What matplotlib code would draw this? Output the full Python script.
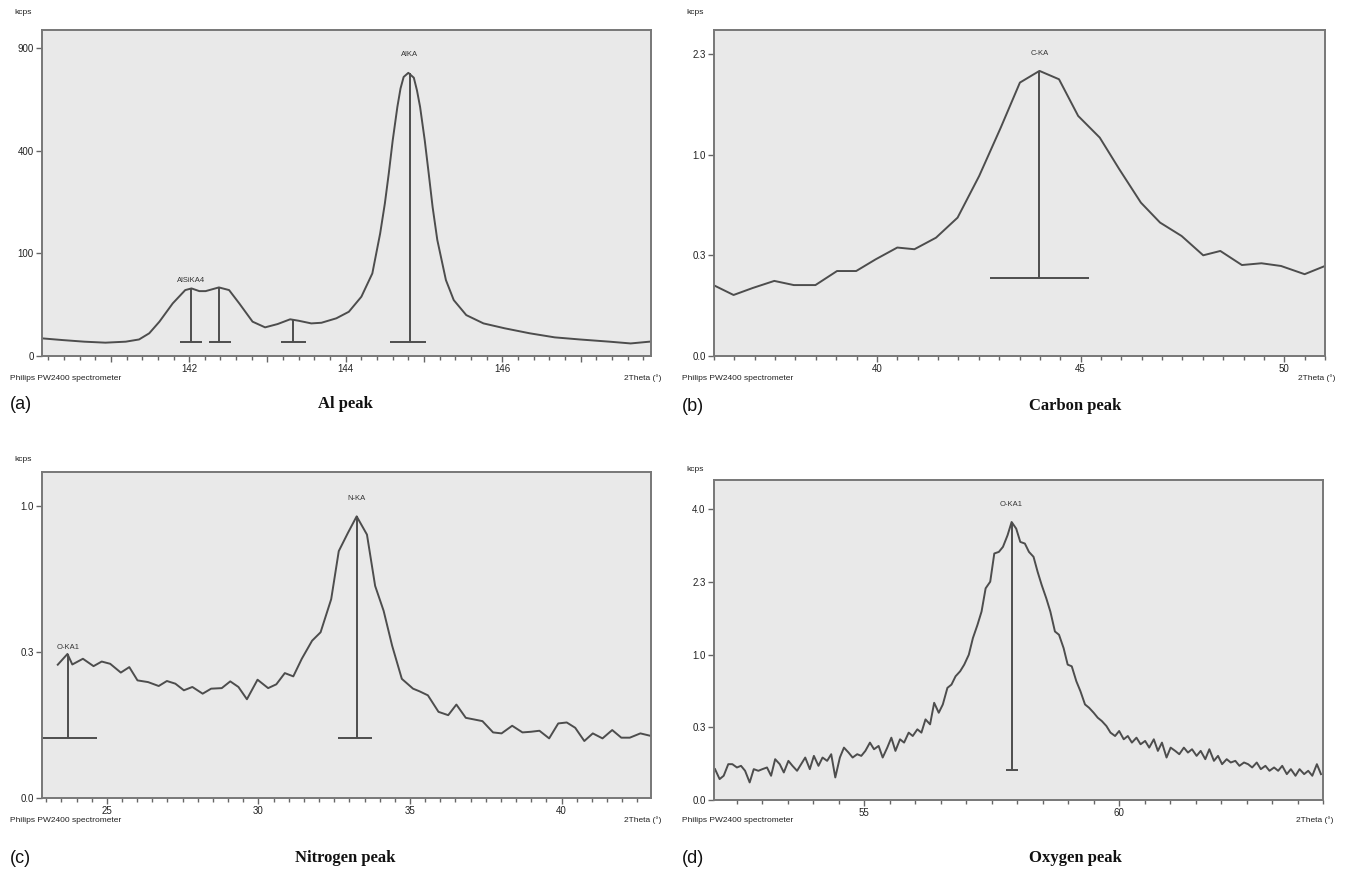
import numpy as np
import matplotlib.pyplot as plt
from matplotlib.ticker import MultipleLocator, FixedLocator

# ---------------- (a) Al peak ----------------
al_x = [140.12, 140.39, 140.66, 140.93, 141.19, 141.36, 141.49, 141.62, 141.79, 141.95,
        142.03, 142.13, 142.21, 142.38, 142.51, 142.64, 142.81, 142.97, 143.13, 143.29,
        143.40, 143.56, 143.69, 143.88, 144.04, 144.20, 144.34, 144.44, 144.50, 144.55,
        144.60, 144.66, 144.70, 144.74, 144.80, 144.87, 144.91, 144.95, 145.01, 145.06,
        145.11, 145.17, 145.28, 145.38, 145.54, 145.76, 146.03, 146.35, 146.67, 146.99,
        147.37, 147.64, 147.88]
al_y = [2.96, 2.4, 1.95, 1.69, 1.95, 2.6, 4.9, 11.2, 26.3, 41.3,
        43.4, 40.0, 40.0, 44.7, 41.3, 26.3, 11.2, 7.8, 9.7, 12.8,
        11.8, 10.1, 10.5, 13.5, 18.6, 33.4, 64.8, 142.8, 221, 316.6,
        441, 590, 680, 740, 762, 736, 671, 590, 441, 317,
        211, 128, 54.8, 29.7, 15.9, 10.1, 7.3, 4.9, 3.3, 2.6,
        1.95, 1.5, 1.95]
al_mark_x = [142.02, 142.38, 143.33, 144.82]
al_mark_top = [43.4, 44.7, 12.8, 762]
al_mark_base = [1.95, 1.95, 1.95, 1.95]
al_bar_lo = [141.88, 142.25, 143.17, 144.57]
al_bar_hi = [142.16, 142.53, 143.49, 145.02]
al_labels = ['AlSiKA4', 'AlKA']
al_label_x = [142.02, 144.82]
al_label_y = [53.9, 865]

# ---------------- (b) Carbon peak ----------------
c_x = [36.0, 36.48, 36.95, 37.48, 37.96, 38.49, 39.02, 39.49, 39.97, 40.50,
       40.92, 41.45, 41.98, 42.51, 43.04, 43.51, 43.99, 44.47, 44.94, 45.47,
       45.95, 46.48, 46.95, 47.48, 48.01, 48.43, 48.96, 49.44, 49.92, 50.50, 51.0]
c_y = [0.123, 0.0918, 0.114, 0.139, 0.124, 0.124, 0.178, 0.178, 0.2305, 0.290,
       0.281, 0.345, 0.472, 0.799, 1.286, 1.843, 2.004, 1.888, 1.421, 1.176,
       0.860, 0.580, 0.439, 0.355, 0.25, 0.272, 0.204, 0.212, 0.1998, 0.165, 0.1998]
c_mark_x = [43.99]
c_mark_top = [2.004]
c_mark_base = [0.151]
c_bar_lo = [42.77]
c_bar_hi = [45.21]
c_labels = ['C-KA']
c_label_x = [43.99]
c_label_y = [2.25]

# ---------------- (c) Nitrogen peak ----------------
n_x = [23.38, 23.70, 23.86, 24.21, 24.56, 24.83, 25.11, 25.46, 25.74, 26.01,
       26.36, 26.71, 26.98, 27.26, 27.54, 27.82, 28.16, 28.44, 28.79, 29.07,
       29.34, 29.62, 29.97, 30.32, 30.59, 30.87, 31.15, 31.43, 31.77, 32.05,
       32.40, 32.65, 32.95, 33.24, 33.58, 33.85, 34.13, 34.41, 34.73, 35.10,
       35.31, 35.59, 35.94, 36.26, 36.53, 36.84, 37.12, 37.39, 37.74, 38.02,
       38.37, 38.71, 38.99, 39.27, 39.59, 39.89, 40.17, 40.45, 40.75, 41.03,
       41.35, 41.67, 41.97, 42.25, 42.60, 42.92]
n_y = [0.209, 0.244, 0.2097, 0.228, 0.2045, 0.219, 0.2118, 0.185, 0.2015, 0.1627,
       0.158, 0.1475, 0.161, 0.1537, 0.1364, 0.145, 0.128, 0.1406, 0.142, 0.160,
       0.145, 0.1147, 0.1646, 0.142, 0.152, 0.1835, 0.174, 0.228, 0.291, 0.323,
       0.465, 0.717, 0.826, 0.933, 0.816, 0.529, 0.412, 0.273, 0.167, 0.1406,
       0.134, 0.124, 0.0873, 0.0807, 0.1027, 0.0756, 0.0725, 0.0695, 0.0506, 0.0491,
       0.0614, 0.0506, 0.0516, 0.0532, 0.0418, 0.0654, 0.0671, 0.0580, 0.0382, 0.0491,
       0.0418, 0.0543, 0.0428, 0.0428, 0.0491, 0.0456]
n_mark_x = [23.72, 33.24]
n_mark_top = [0.244, 0.933]
n_mark_base = [0.043, 0.042]
n_bar_lo = [22.86, 32.62]
n_bar_hi = [24.67, 33.73]
n_labels = ['O-KA1', 'N-KA']
n_label_x = [23.72, 33.24]
n_label_y = [0.266, 1.053]

# ---------------- (d) Oxygen peak ----------------
o_x = [52.07, 52.16, 52.24, 52.33, 52.41, 52.50, 52.58, 52.66, 52.75, 52.83,
       52.92, 53.00, 53.09, 53.17, 53.25, 53.34, 53.42, 53.51, 53.59, 53.68,
       53.76, 53.84, 53.93, 54.01, 54.10, 54.18, 54.27, 54.35, 54.43, 54.52,
       54.60, 54.69, 54.77, 54.86, 54.94, 55.02, 55.11, 55.19, 55.28, 55.36,
       55.45, 55.53, 55.61, 55.70, 55.78, 55.87, 55.95, 56.04, 56.12, 56.20,
       56.29, 56.37, 56.46, 56.54, 56.63, 56.71, 56.79, 56.88, 56.96, 57.05,
       57.13, 57.22, 57.30, 57.38, 57.47, 57.55, 57.64, 57.72, 57.81, 57.89,
       57.98, 58.06, 58.15, 58.23, 58.32, 58.40, 58.48, 58.57, 58.65, 58.74,
       58.82, 58.91, 58.99, 59.07, 59.16, 59.24, 59.33, 59.41, 59.50, 59.58,
       59.66, 59.75, 59.83, 59.92, 60.00, 60.09, 60.17, 60.25, 60.34, 60.42,
       60.51, 60.59, 60.68, 60.76, 60.84, 60.93, 61.01, 61.10, 61.18, 61.27,
       61.35, 61.43, 61.52, 61.60, 61.69, 61.77, 61.86, 61.94, 62.02, 62.11,
       62.19, 62.28, 62.36, 62.45, 62.53, 62.61, 62.70, 62.78, 62.87, 62.95,
       63.04, 63.12, 63.20, 63.29, 63.37, 63.46, 63.54, 63.63, 63.71, 63.79,
       63.88, 63.96]
o_y = [0.0451, 0.0207, 0.0278, 0.0608, 0.0608, 0.0501, 0.0553, 0.0404, 0.0146, 0.0451,
       0.0404, 0.0451, 0.0501, 0.0278, 0.0789, 0.0608, 0.0359, 0.0726, 0.0553, 0.0404,
       0.0608, 0.0854, 0.0451, 0.0922, 0.0553, 0.0854, 0.0726, 0.0993, 0.0241, 0.0854,
       0.130, 0.1066, 0.0854, 0.0993, 0.0922, 0.1142, 0.156, 0.122, 0.1385, 0.0854,
       0.130, 0.184, 0.1142, 0.1746, 0.156, 0.215, 0.194, 0.2365, 0.215, 0.3078,
       0.271, 0.4475, 0.3606, 0.4324, 0.5955, 0.631, 0.725, 0.785, 0.868, 1.0,
       1.241, 1.453, 1.682, 2.122, 2.257, 2.878, 2.916, 3.035, 3.319, 3.660,
       3.488, 3.155, 3.115, 2.916, 2.801, 2.467, 2.189, 1.927, 1.682, 1.345,
       1.293, 1.093, 0.868, 0.8466, 0.668, 0.5608, 0.4324, 0.4029, 0.3606, 0.3206,
       0.2953, 0.2592, 0.215, 0.194, 0.2255, 0.1746, 0.194, 0.156, 0.184, 0.1471,
       0.1652, 0.130, 0.1746, 0.1142, 0.156, 0.0854, 0.130, 0.1142, 0.0993, 0.130,
       0.1066, 0.122, 0.0922, 0.1142, 0.0789, 0.122, 0.0726, 0.0922, 0.0608, 0.0789,
       0.0666, 0.0726, 0.0553, 0.0666, 0.0608, 0.0501, 0.0666, 0.0451, 0.0553, 0.0404,
       0.0501, 0.0404, 0.0553, 0.0317, 0.0451, 0.0278, 0.0451, 0.0317, 0.0404, 0.0278,
       0.0608, 0.0317]
o_mark_x = [57.89]
o_mark_top = [3.66]
o_mark_base = [0.0432]
o_bar_lo = [57.77]
o_bar_hi = [58.02]
o_labels = ['O-KA1']
o_label_x = [57.89]
o_label_y = [4.13]

W, H = 1345, 880
LINE = '#4d4d4d'
BG = '#e9e9e9'
SANS = 'Liberation Sans'
SERIF = 'Liberation Serif'


def fwd(v):
    return np.sqrt(np.clip(v, 0, None))


def inv(v):
    return np.square(v)


def make_panel(fig, box, x, y, xlim, ytop, xmajor, xlabels, xminor, ytick_vals,
               ytick_labels, mx, mtop, mbase, blo, bhi, labels, lx, ly, letter,
               title, title_x, title_y, kcps_xy, philips_y):
    l, r, t, b = box
    ax = fig.add_axes([l / W, 1 - b / H, (r - l) / W, (b - t) / H])
    ax.set_facecolor(BG)
    ax.set_yscale('function', functions=(fwd, inv))
    ax.plot(x, y, color=LINE, lw=1.4)
    ax.vlines(mx, mbase, mtop, color=LINE, lw=1.4)
    ax.hlines(mbase, blo, bhi, color=LINE, lw=1.4)
    for s, xx, yy in zip(labels, lx, ly):
        ax.text(xx, yy, s, ha='center', va='center', fontsize=5.5,
                family=SANS, color='#333333')
    ax.set_xlim(*xlim)
    ax.set_ylim(0, ytop)
    ax.xaxis.set_major_locator(FixedLocator(xmajor))
    ax.xaxis.set_minor_locator(MultipleLocator(xminor))
    ax.set_xticklabels(xlabels)
    ax.yaxis.set_major_locator(FixedLocator(ytick_vals))
    ax.yaxis.set_minor_locator(FixedLocator([]))
    ax.set_yticklabels(ytick_labels)
    ax.tick_params(axis='both', which='major', direction='out', length=4,
                   width=1, color='#666666', labelsize=7, pad=2, labelcolor='#222222')
    ax.tick_params(axis='x', which='minor', direction='out', length=3,
                   width=1, color='#666666')
    for lab in ax.get_xticklabels() + ax.get_yticklabels():
        lab.set_family(SANS)
    for sp in ax.spines.values():
        sp.set_color('#777777')
        sp.set_linewidth(1.4)

    fig.text(kcps_xy[0] / W, 1 - kcps_xy[1] / H, 'kcps', fontsize=6,
             family=SANS, ha='left', va='center', color='#222222')
    fig.text((l - 32) / W, 1 - philips_y / H, 'Philips PW2400 spectrometer',
             fontsize=6, family=SANS, ha='left', va='center', color='#222222')
    fig.text((r + 10) / W, 1 - philips_y / H, '2Theta (°)', fontsize=6,
             family=SANS, ha='right', va='center', color='#222222')
    fig.text((l - 32) / W, 1 - title_y / H, letter, fontsize=13,
             family=SANS, ha='left', va='center', color='#111111')
    fig.text(title_x / W, 1 - title_y / H, title, fontsize=12, family=SERIF,
             weight='bold', ha='center', va='center', color='#111111')
    return ax


fig = plt.figure(figsize=(W / 100, H / 100), dpi=100)
fig.patch.set_facecolor('white')

make_panel(fig, (42, 651, 30, 356), al_x, al_y, (140.12, 147.9), 1010,
           [141, 142, 143, 144, 145, 146, 147], ['', '142', '', '144', '', '146', ''], 0.2,
           [0, 100, 400, 900], ['0', '100', '400', '900'],
           al_mark_x, al_mark_top, al_mark_base, al_bar_lo, al_bar_hi,
           al_labels, al_label_x, al_label_y,
           '(a)', 'Al peak', 345, 404, (14, 13), 378)

make_panel(fig, (714, 1325, 30, 356), c_x, c_y, (36.0, 51.0), 2.62,
           [40, 45, 50], ['40', '45', '50'], 0.5,
           [0, 0.25, 1.0, 2.25], ['0.0', '0.3', '1.0', '2.3'],
           c_mark_x, c_mark_top, c_mark_base, c_bar_lo, c_bar_hi,
           c_labels, c_label_x, c_label_y,
           '(b)', 'Carbon peak', 1075, 406, (686, 13), 378)

make_panel(fig, (42, 651, 472, 798), n_x, n_y, (22.86, 42.95), 1.25,
           [25, 30, 35, 40], ['25', '30', '35', '40'], 0.5,
           [0, 0.25, 1.0], ['0.0', '0.3', '1.0'],
           n_mark_x, n_mark_top, n_mark_base, n_bar_lo, n_bar_hi,
           n_labels, n_label_x, n_label_y,
           '(c)', 'Nitrogen peak', 345, 858, (14, 459), 820)

make_panel(fig, (714, 1323, 480, 800), o_x, o_y, (52.05, 64.0), 4.85,
           [55, 60], ['55', '60'], 0.5,
           [0, 0.25, 1.0, 2.25, 4.0], ['0.0', '0.3', '1.0', '2.3', '4.0'],
           o_mark_x, o_mark_top, o_mark_base, o_bar_lo, o_bar_hi,
           o_labels, o_label_x, o_label_y,
           '(d)', 'Oxygen peak', 1075, 858, (686, 469), 820)

fig.savefig('out.png', dpi=100, facecolor='white')
